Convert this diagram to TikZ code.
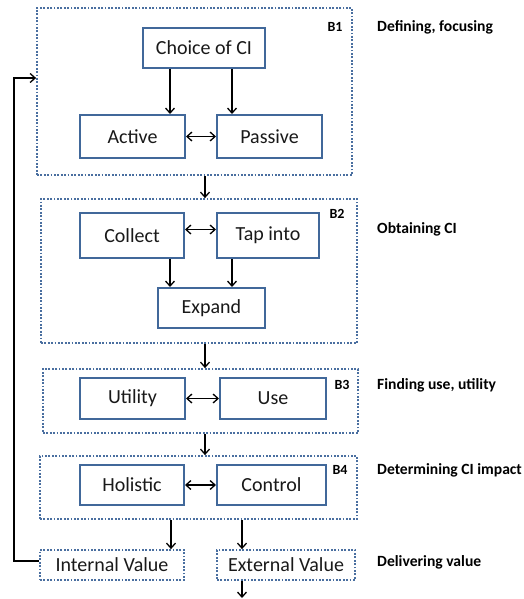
\documentclass[tikz,border=0pt]{standalone}
\usepackage{fontspec}
\setmainfont{Carlito}
\usetikzlibrary{arrows.meta}
\definecolor{boxblue}{HTML}{41689A}
\definecolor{dotblue}{HTML}{4A6FA0}
\tikzset{
  box/.style={draw=boxblue, line width=2pt, fill=white, inner sep=0pt, font=\fontsize{20}{24}\selectfont, text=black!90},
  group/.style={draw=dotblue, line width=1.8pt, dash pattern=on 1.8pt off 1.6pt, inner sep=0pt},
  vbox/.style={draw=dotblue, line width=1.8pt, dash pattern=on 1.8pt off 1.6pt, inner sep=0pt, font=\fontsize{20}{24}\selectfont, text=black!90},
  blabel/.style={font=\bfseries\fontsize{14}{16}\selectfont, inner sep=0pt},
  side/.style={font=\bfseries\fontsize{15.6}{18}\selectfont, anchor=west, inner sep=0pt},
  arr/.style={-{Straight Barb[length=5pt,width=9pt]}, line width=1.3pt},
  darr/.style={{Straight Barb[length=5pt,width=9pt]}-{Straight Barb[length=5pt,width=9pt]}, line width=1.3pt}
}
\begin{document}
\begin{tikzpicture}[x=1pt,y=-1pt]
\useasboundingbox (0,0) rectangle (523,599);
% groups
\node[group, minimum width=315pt, minimum height=167pt] (B1) at (194.5,91.5) {};
\node[group, minimum width=316pt, minimum height=144pt] (B2) at (199,271) {};
\node[group, minimum width=315pt, minimum height=64pt] (B3) at (200.5,401) {};
\node[group, minimum width=317pt, minimum height=63pt] (B4) at (198.5,487.5) {};
% boxes
\node[box, minimum width=122pt, minimum height=40pt] (choice) at (204,48) {Choice of CI};
\node[box, minimum width=105pt, minimum height=43pt] (active) at (132.5,136.5) {Active};
\node[box, minimum width=105pt, minimum height=43pt] (passive) at (269.5,136.5) {Passive};
\node[box, minimum width=104pt, minimum height=45pt] (collect) at (132,235.5) {Collect};
\node[box, minimum width=102pt, minimum height=45pt] (tap) at (268,235.5) {Tap into};
\node[box, minimum width=107pt, minimum height=40pt] (expand) at (211.5,308) {Expand};
\node[box, minimum width=105pt, minimum height=41pt] (utility) at (132.5,398.5) {Utility};
\node[box, minimum width=106pt, minimum height=41pt] (use) at (273,398.5) {Use};
\node[box, minimum width=104pt, minimum height=40pt] (holistic) at (132,485) {Holistic};
\node[box, minimum width=109pt, minimum height=40pt] (control) at (271.5,485) {Control};
\node[vbox, minimum width=144pt, minimum height=30pt] (internal) at (112,565) {Internal Value};
\node[vbox, minimum width=138pt, minimum height=30pt] (external) at (286,565) {External Value};
% group labels
\node[blabel] (lb1) at (335,27) {B1};
\node[blabel] (lb2) at (337,214) {B2};
\node[blabel] (lb3) at (342,385) {B3};
\node[blabel] (lb4) at (340,470) {B4};
% side labels
\node[side] (s1) at (377,27) {Defining, focusing};
\node[side] (s2) at (377,229) {Obtaining CI};
\node[side] (s3) at (377,385) {Finding use, utility};
\node[side] (s4) at (377,470) {Determining CI impact};
\node[side] (s5) at (377,562) {Delivering value};
% helper coordinates
\coordinate (xa) at (170,0);
\coordinate (xb) at (232,0);
\coordinate (xc) at (205,0);
\coordinate (xd) at (171,0);
\coordinate (xe) at (242,0);
\coordinate (loop) at (14,78);
\coordinate (out) at (242,598);
% B1 arrows
\draw[arr] (choice.south -| xa) -- (active.north -| xa);
\draw[arr] (choice.south -| xb) -- (passive.north -| xb);
\draw[darr] (active) -- (passive);
% B2 arrows
\draw[darr] ([yshift=6pt]collect.east) -- ([yshift=6pt]tap.west);
\draw[arr] (collect.south -| xa) -- (expand.north -| xa);
\draw[arr] (tap.south -| xb) -- (expand.north -| xb);
% B3, B4
\draw[darr] (utility) -- (use);
\draw[darr] (holistic) -- (control);
% between groups
\draw[arr] (B1.south -| xc) -- (B2.north -| xc);
\draw[arr] (B2.south -| xc) -- (B3.north -| xc);
\draw[arr] (B3.south -| xc) -- (B4.north -| xc);
\draw[arr] (B4.south -| xd) -- (internal.north -| xd);
\draw[arr] (B4.south -| xe) -- (external.north -| xe);
\draw[arr] (external.south -| xe) -- (out);
% feedback loop
\draw[arr] ([yshift=4pt]internal.west) -| (loop) -- (B1.west |- loop);
\end{tikzpicture}
\end{document}
